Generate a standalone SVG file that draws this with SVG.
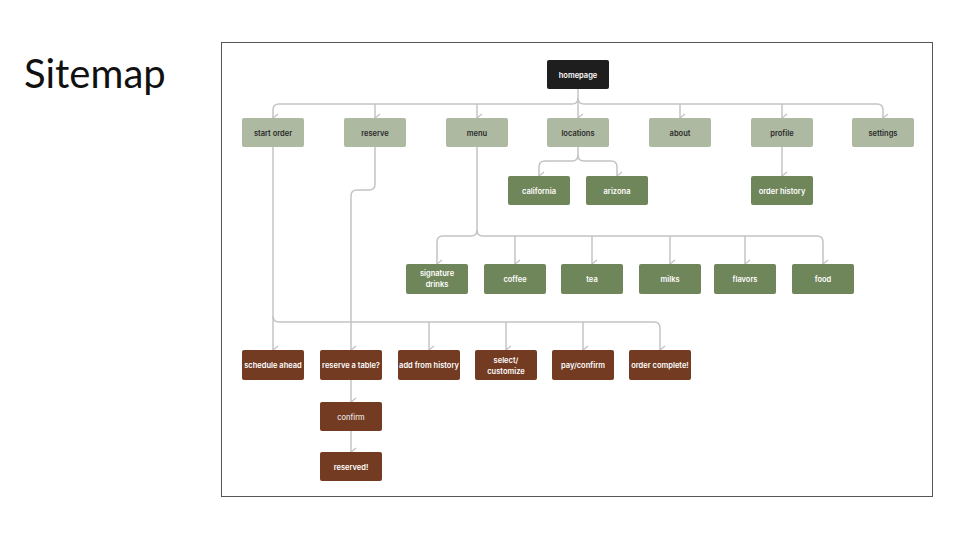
<svg xmlns="http://www.w3.org/2000/svg" width="960" height="540" viewBox="0 0 960 540">
<defs>
<marker id="ah" viewBox="0 0 10 10" refX="5" refY="9" markerWidth="10" markerHeight="10" markerUnits="userSpaceOnUse" orient="auto-start-reverse">
<path d="M1,4 L5,9 L9,4" fill="none" stroke="#c4c4c4" stroke-width="1.4"/>
</marker>
<style>
.n rect{rx:2px}
.t{font-family:Inter,"Liberation Sans",sans-serif;font-size:7.5px;font-weight:600;text-anchor:middle}
.l1 rect{fill:#adb9a1}.l1 text{fill:#2a2a2a}
.g rect{fill:#6f855a}.g text{fill:#fff}
.b rect{fill:#733b22}.b text{fill:#fff}
.c path{fill:none;stroke:#c4c4c4;stroke-width:1.5}
.c .a{marker-end:url(#ah)}
</style>
</defs>
<rect width="960" height="540" fill="#fff"/>
<text x="24" y="88" font-family="Lato,'Noto Sans',sans-serif" font-size="40" fill="#111">Sitemap</text>
<rect x="221.5" y="42.5" width="711" height="454" fill="#fff" stroke="#555" stroke-width="1"/>
<g class="c">
<path d="M578,89 V98 Q578,104 572,104 H279 Q273,104 273,110 V118" class="a"/>
<path d="M375,104 Q375,104 375,110 V118" class="a"/>
<path d="M477,104 V118" class="a"/>
<path d="M578,98 V118" class="a"/>
<path d="M578,98 Q578,104 584,104 H877 Q883,104 883,110 V118" class="a"/>
<path d="M680,104 V118" class="a"/>
<path d="M782,104 V118" class="a"/>
<path d="M578,147 V155 Q578,161 572,161 H545 Q539,161 539,167 V176" class="a"/>
<path d="M578,155 Q578,161 584,161 H611 Q617,161 617,167 V176" class="a"/>
<path d="M782,147 V176" class="a"/>
<path d="M477,147 V230 Q477,236 471,236 H443 Q437,236 437,242 V264" class="a"/>
<path d="M477,230 Q477,236 483,236 H817 Q823,236 823,242 V264" class="a"/>
<path d="M515,236 Q515,236 515,242 V264" class="a"/>
<path d="M592,236 V264" class="a"/>
<path d="M670,236 V264" class="a"/>
<path d="M745,236 V264" class="a"/>
<path d="M273,147 V350" class="a"/>
<path d="M273,316 Q273,322 279,322 H654 Q660,322 660,328 V350" class="a"/>
<path d="M429,322 V350" class="a"/>
<path d="M506,322 V350" class="a"/>
<path d="M583,322 V350" class="a"/>
<path d="M375,147 V184 Q375,190 369,190 H357 Q351,190 351,196 V350" class="a"/>
<path d="M351,380 V402" class="a"/>
<path d="M351,431 V452" class="a"/>
</g>
<g id="homepage" class="n"><rect x="547" y="60" width="62" height="29" fill="#1e1e1e"/><text class="t" x="578" y="77.5" fill="#fff">homepage</text></g>
<g id="start-order" class="n l1"><rect x="242" y="118" width="62" height="29"/><text class="t" x="273" y="135.5">start order</text></g>
<g id="reserve" class="n l1"><rect x="344" y="118" width="62" height="29"/><text class="t" x="375" y="135.5">reserve</text></g>
<g id="menu" class="n l1"><rect x="446" y="118" width="62" height="29"/><text class="t" x="477" y="135.5">menu</text></g>
<g id="locations" class="n l1"><rect x="547" y="118" width="62" height="29"/><text class="t" x="578" y="135.5">locations</text></g>
<g id="about" class="n l1"><rect x="649" y="118" width="62" height="29"/><text class="t" x="680" y="135.5">about</text></g>
<g id="profile" class="n l1"><rect x="751" y="118" width="62" height="29"/><text class="t" x="782" y="135.5">profile</text></g>
<g id="settings" class="n l1"><rect x="852" y="118" width="62" height="29"/><text class="t" x="883" y="135.5">settings</text></g>
<g id="california" class="n g"><rect x="508" y="176" width="62" height="29"/><text class="t" x="539" y="193.5">california</text></g>
<g id="arizona" class="n g"><rect x="586" y="176" width="62" height="29"/><text class="t" x="617" y="193.5">arizona</text></g>
<g id="order-history" class="n g"><rect x="751" y="176" width="62" height="29"/><text class="t" x="782" y="193.5">order history</text></g>
<g id="signature-drinks" class="n g"><rect x="406" y="264" width="62" height="30"/><text class="t" x="437" y="276">signature</text><text class="t" x="437" y="287">drinks</text></g>
<g id="coffee" class="n g"><rect x="484" y="264" width="62" height="30"/><text class="t" x="515" y="282">coffee</text></g>
<g id="tea" class="n g"><rect x="561" y="264" width="62" height="30"/><text class="t" x="592" y="282">tea</text></g>
<g id="milks" class="n g"><rect x="639" y="264" width="62" height="30"/><text class="t" x="670" y="282">milks</text></g>
<g id="flavors" class="n g"><rect x="714" y="264" width="62" height="30"/><text class="t" x="745" y="282">flavors</text></g>
<g id="food" class="n g"><rect x="792" y="264" width="62" height="30"/><text class="t" x="823" y="282">food</text></g>
<g id="schedule-ahead" class="n b"><rect x="242" y="350" width="62" height="30"/><text class="t" x="273" y="368">schedule ahead</text></g>
<g id="reserve-table" class="n b"><rect x="320" y="350" width="62" height="30"/><text class="t" x="351" y="368">reserve a table?</text></g>
<g id="add-from-history" class="n b"><rect x="398" y="350" width="62" height="30"/><text class="t" x="429" y="368">add from history</text></g>
<g id="select-customize" class="n b"><rect x="475" y="350" width="62" height="30"/><text class="t" x="506" y="362.5">select/</text><text class="t" x="506" y="373.5">customize</text></g>
<g id="pay-confirm" class="n b"><rect x="552" y="350" width="62" height="30"/><text class="t" x="583" y="368">pay/confirm</text></g>
<g id="order-complete" class="n b"><rect x="629" y="350" width="62" height="30"/><text class="t" x="660" y="368">order complete!</text></g>
<g id="confirm" class="n b"><rect x="320" y="402" width="62" height="29"/><text class="t" x="351" y="419.5" style="font-weight:400">confirm</text></g>
<g id="reserved" class="n b"><rect x="320" y="452" width="62" height="29"/><text class="t" x="351" y="469.5">reserved!</text></g>
</svg>
